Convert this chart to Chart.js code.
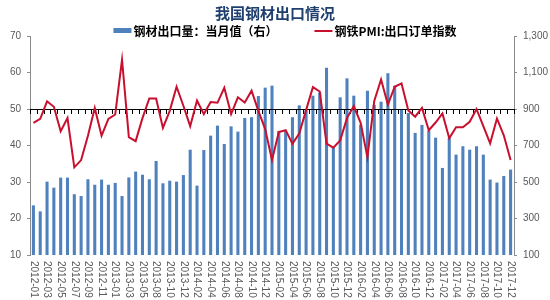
<!DOCTYPE html>
<html>
<head>
<meta charset="utf-8">
<script src="https://cdn.jsdelivr.net/npm/chart.js@4.4.0/dist/chart.umd.min.js"></script>
<style>
  body { margin: 0; background: #fff; }
  #wrap { width: 550px; height: 300px; }
</style>
</head>
<body>
<div id="wrap"><canvas id="steel"></canvas></div>
<script>
// 月份 (2013 年缺一个月)
var months = [
	'2012-01','2012-02','2012-03','2012-04','2012-05','2012-06','2012-07','2012-08','2012-09','2012-10','2012-11','2012-12',
	'2013-01','2013-02','2013-03','2013-04','2013-05','2013-07','2013-08','2013-09','2013-10','2013-11','2013-12',
	'2014-01','2014-02','2014-03','2014-04','2014-05','2014-06','2014-07','2014-08','2014-09','2014-10','2014-11','2014-12',
	'2015-01','2015-02','2015-03','2015-04','2015-05','2015-06','2015-07','2015-08','2015-09','2015-10','2015-11','2015-12',
	'2016-01','2016-02','2016-03','2016-04','2016-05','2016-06','2016-07','2016-08','2016-09','2016-10','2016-11','2016-12',
	'2017-01','2017-02','2017-03','2017-04','2017-05','2017-06','2017-07','2017-08','2017-09','2017-10','2017-11','2017-12'
];

// 钢材出口量：当月值 (万吨, 右轴)
var exportVol = [
	372, 339, 502, 469, 524, 524, 433, 423, 515, 485, 513, 485,
	495, 423, 525, 557, 540, 515, 615, 493, 507, 502, 538,
	677, 480, 675, 754, 809, 708, 805, 776, 851, 855, 971, 1017,
	1028, 780, 782, 855, 920, 900, 973, 990, 1126, 690, 964, 1068,
	973, 814, 1000, 923, 940, 1096, 1028, 900, 878, 769, 813, 782,
	743, 577, 741, 650, 696, 677, 696, 650, 513, 497, 533, 568
];

// 钢铁PMI:出口订单指数 (左轴)
var pmiExport = [
	46.2, 47.3, 52.1, 50.6, 43.9, 47.5, 34.0, 36.0, 42.7, 50.3, 42.7, 47.3,
	48.5, 63.5, 42.3, 41.2, 47.5, 52.9, 52.9, 44.8, 49.5, 56.1, 50.9,
	45.3, 52.3, 48.6, 51.9, 51.7, 55.8, 48.6, 53.2, 51.8, 55.0, 49.5, 44.5,
	36.0, 43.7, 44.2, 40.5, 43.3, 49.7, 56.0, 54.8, 40.5, 39.4, 41.4, 47.5,
	50.8, 46.2, 36.8, 52.2, 58.1, 51.2, 56.1, 57.0, 49.6, 47.9, 50.3, 44.2,
	46.3, 48.8, 42.0, 45.0, 45.0, 46.5, 50.0, 45.3, 40.6, 47.4, 42.8, 36.0
];

var pmiBase = 50;

var barColor = '#4F81BD';
var lineColor = '#C8102E';
var tickColor = '#595959';
var cjkFont = '"Noto Sans CJK SC", "Noto Sans", sans-serif';
var numFont = '"Liberation Sans", Arial, sans-serif';

// 50 线 (横轴) + 刻度, 画在折线下面
var baseLine = {
	id: 'baseLine',
	beforeDatasetDraw: function(chart, args) {
		if (args.index !== 1) return;
		var ctx = chart.ctx;
		var area = chart.chartArea;
		var x = chart.scales.x;
		var y = chart.scales.y.getPixelForValue(pmiBase);
		ctx.save();
		ctx.strokeStyle = '#000';
		ctx.lineWidth = 1;
		ctx.beginPath();
		ctx.moveTo(area.left, Math.round(y) + 0.5);
		ctx.lineTo(area.right, Math.round(y) + 0.5);
		for (var i = 0; i <= months.length; i++) {
			var px = Math.round(x.getPixelForValue(i - 0.5)) + 0.5;
			ctx.moveTo(px, Math.round(y));
			ctx.lineTo(px, Math.round(y) + 5);
		}
		ctx.stroke();
		ctx.restore();
	}
};

// 竖排的月份标签, 隔一个显示
var monthLabels = {
	id: 'monthLabels',
	afterDraw: function(chart) {
		var ctx = chart.ctx;
		var x = chart.scales.x;
		var top = chart.chartArea.bottom + 6;
		ctx.save();
		ctx.font = '10px ' + numFont;
		ctx.fillStyle = tickColor;
		ctx.textAlign = 'left';
		ctx.textBaseline = 'middle';
		for (var i = 0; i < months.length; i += 2) {
			ctx.save();
			ctx.translate(x.getPixelForValue(i), top);
			ctx.rotate(Math.PI / 2);
			ctx.fillText(months[i], 0, 0);
			ctx.restore();
		}
		ctx.restore();
	}
};

// 图例
var topLegend = {
	id: 'topLegend',
	afterDraw: function(chart) {
		var ctx = chart.ctx;
		var sets = chart.data.datasets;
		var y = 31;
		ctx.save();
		ctx.font = 'bold 12px ' + cjkFont;
		ctx.textBaseline = 'middle';
		ctx.textAlign = 'left';
		var w0 = ctx.measureText(sets[0].label).width;
		var w1 = ctx.measureText(sets[1].label).width;
		var gap = 37;
		var total = 20 + w0 + gap + 20 + w1;
		var start = (chart.width - total) / 2 + 10;

		ctx.fillStyle = sets[0].backgroundColor;
		ctx.fillRect(start, y - 3, 18, 5);
		ctx.fillStyle = '#000';
		ctx.fillText(sets[0].label, start + 20, y);

		var s2 = start + 20 + w0 + gap;
		ctx.strokeStyle = sets[1].borderColor;
		ctx.lineWidth = 2;
		ctx.beginPath();
		ctx.moveTo(s2, y);
		ctx.lineTo(s2 + 18, y);
		ctx.stroke();
		ctx.fillText(sets[1].label, s2 + 20, y);
		ctx.restore();
	}
};

new Chart(document.getElementById('steel'), {
	type: 'bar',
	data: {
		labels: months,
		datasets: [{
			type: 'bar',
			label: '钢材出口量：当月值（右）',
			data: exportVol,
			yAxisID: 'y1',
			backgroundColor: barColor,
			barPercentage: 0.45,
			categoryPercentage: 1,
			order: 2
		}, {
			type: 'line',
			label: '钢铁PMI:出口订单指数',
			data: pmiExport,
			yAxisID: 'y',
			borderColor: lineColor,
			backgroundColor: lineColor,
			borderWidth: 2,
			pointRadius: 0,
			tension: 0,
			order: 1
		}]
	},
	options: {
		responsive: true,
		maintainAspectRatio: false,
		animation: false,
		locale: 'en-US',
		layout: { padding: 0 },
		plugins: {
			legend: { display: false },
			tooltip: { enabled: false },
			title: {
				display: true,
				text: '我国钢材出口情况',
				color: '#1F3F6E',
				font: { family: cjkFont, size: 15, weight: 'bold' },
				padding: { top: 4, bottom: 14 }
			}
		},
		scales: {
			x: {
				type: 'category',
				offset: true,
				grid: { display: false },
				border: { display: false },
				ticks: { display: false },
				afterFit: function(s) { s.height = 45; }
			},
			y: {
				position: 'left',
				min: 10,
				max: 70,
				ticks: { stepSize: 10, color: tickColor, font: { family: numFont, size: 10 }, padding: 6 },
				grid: { drawOnChartArea: false, tickLength: 3, color: '#8c8c8c' },
				border: { color: '#8c8c8c' },
				afterFit: function(s) { s.width = 30; }
			},
			y1: {
				position: 'right',
				min: 100,
				max: 1300,
				ticks: { stepSize: 200, color: tickColor, font: { family: numFont, size: 10 }, padding: 6 },
				grid: { drawOnChartArea: false, tickLength: 3, color: '#8c8c8c' },
				border: { color: '#8c8c8c' },
				afterFit: function(s) { s.width = 36; }
			}
		}
	},
	plugins: [baseLine, monthLabels, topLegend]
});
</script>
</body>
</html>
